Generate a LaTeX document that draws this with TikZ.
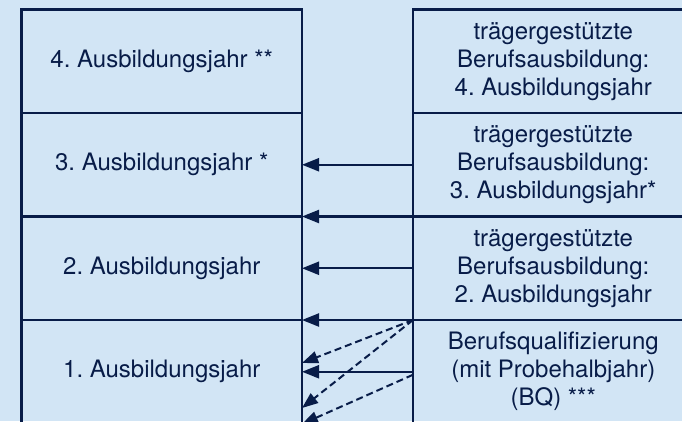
\documentclass[tikz,border=0pt]{standalone}
\usepackage{fontspec}
\setmainfont{TeX Gyre Heros}
\usetikzlibrary{arrows.meta,calc}
\definecolor{bg}{RGB}{210,229,245}
\definecolor{navy}{RGB}{8,28,72}
\frenchspacing
\begin{document}
\begin{tikzpicture}[x=1pt,y=-1pt,
  box/.style={draw=navy,line width=2.2pt,minimum width=280.5pt,minimum height=103.5pt,
    inner sep=0pt,outer sep=0pt,text=navy,align=center,font=\fontsize{24}{28}\selectfont},
  solidarrow/.style={draw=navy,line width=2.2pt,-{Triangle[length=17pt,width=13pt]}},
  dasharrow/.style={draw=navy,line width=2pt,dash pattern=on 7pt off 4pt,-{Triangle[length=16pt,width=12pt]}}]
\fill[bg] (0,0) rectangle (682,421);
\useasboundingbox (0,0) rectangle (682,421);
\clip (0,0) rectangle (682,421);
% left column
\node[box] (L4) at (161.75,61.25) {4. Ausbildungsjahr **};
\node[box] (L3) at (161.75,164.75) {3. Ausbildungsjahr *};
\node[box] (L2) at (161.75,268.25) {2. Ausbildungsjahr};
\node[box] (L1) at (161.75,371.75) {1. Ausbildungsjahr};
% right column
\node[box] (R4) at (553.25,61.25) {trägergestützte\\Berufsausbildung:\\4. Ausbildungsjahr};
\node[box] (R3) at (553.25,164.75) {trägergestützte\\Berufsausbildung:\\3. Ausbildungsjahr*};
\node[box] (R2) at (553.25,268.25) {trägergestützte\\Berufsausbildung:\\2. Ausbildungsjahr};
\node[box] (R1) at (553.25,371.75) {Berufsqualifizierung\\(mit Probehalbjahr)\\(BQ) ***};
% solid arrows
\draw[solidarrow] (R3.west) -- (L3.east);
\draw[solidarrow] (R3.south west) -- (L3.south east);
\draw[solidarrow] (R2.west) -- (L2.east);
\draw[solidarrow] (R2.south west) -- (L2.south east);
\draw[solidarrow] (R1.west) -- (L1.east);
% dashed arrows
\coordinate (d1) at ($(L1.north east)+(0,43)$);
\coordinate (d2) at ($(L1.north east)+(0,88)$);
\coordinate (d3s) at ($(R1.west)+(0,3)$);
\coordinate (d3) at ($(L1.north east)+(0,104)$);
\draw[dasharrow] (R1.north west) -- (d1);
\draw[dasharrow] (R1.north west) -- (d2);
\draw[dasharrow] (d3s) -- (d3);
\end{tikzpicture}
\end{document}
